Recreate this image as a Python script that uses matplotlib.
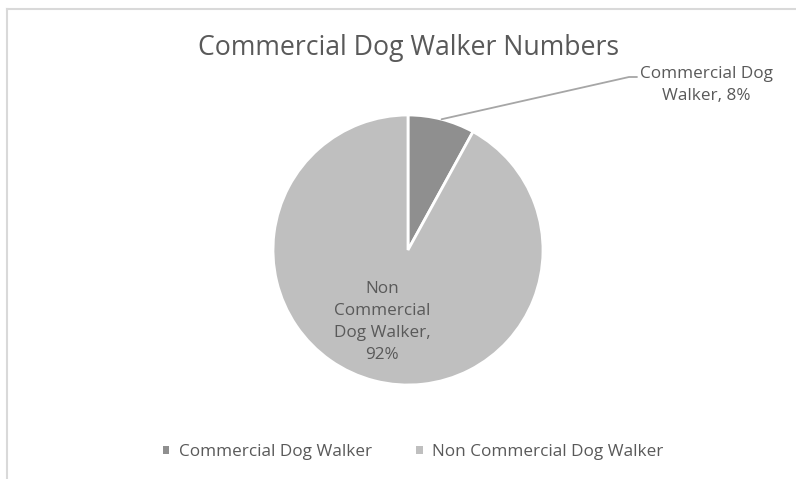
import numpy as np
import matplotlib
matplotlib.use("Agg")
import matplotlib.pyplot as plt
from matplotlib.lines import Line2D
from matplotlib.patches import Patch

# Data
labels = ["Commercial Dog Walker", "Non Commercial Dog Walker"]
values = [8, 92]
colors = ["#8f8f8f", "#bfbfbf"]
title = "Commercial Dog Walker Numbers"
text_color = "#595959"

plt.rcParams['font.family'] = ['Open Sans', 'DejaVu Sans']

W, H = 796, 479
fig = plt.figure(figsize=(W / 100, H / 100), dpi=100)

# pie axes: centre (408, 250) px from top, radius 135 px
cx, cy, r = 408, 250, 135
ax = fig.add_axes([(cx - r) / W, (H - cy - r) / H, 2 * r / W, 2 * r / H])
wedges, _ = ax.pie(values, colors=colors, startangle=90, counterclock=False,
                   radius=1, wedgeprops=dict(edgecolor="white", linewidth=2))
ax.set_xlim(-1, 1)
ax.set_ylim(-1, 1)
ax.set_aspect("equal")
ax.axis("off")

total = sum(values)
pct = [round(v / total * 100) for v in values]
fs = 12.3

# leader line for the small slice: straight segment then short horizontal
mid = np.deg2rad(90 - values[0] / total * 360 / 2)
ax.annotate("", xy=(np.cos(mid), np.sin(mid)), xycoords="data",
            xytext=(637 / W, 1 - 77 / H), textcoords="figure fraction",
            arrowprops=dict(arrowstyle="-", color="#a6a6a6", lw=1.3,
                            shrinkA=0, shrinkB=0,
                            connectionstyle="angle,angleA=0,angleB=12.7,rad=0"))
fig.text(706 / W, 1 - 85 / H, f"Commercial Dog\nWalker, {pct[0]}%",
         ha="center", va="center", multialignment="center", fontsize=fs,
         color=text_color, linespacing=1.48)

# label inside big slice
fig.text(382 / W, 1 - 322 / H, f"Non\nCommercial\nDog Walker,\n{pct[1]}%",
         ha="center", va="center", fontsize=fs, color=text_color, linespacing=1.48)

fig.text(409 / W, 1 - 48 / H, title, ha="center", va="center",
         fontsize=19.2, color=text_color)

handles = [Patch(facecolor=c, edgecolor="none") for c in colors]
fig.legend(handles, labels, loc="center", bbox_to_anchor=(413 / W, 1 - 452 / H),
           ncol=2, frameon=False, fontsize=fs, labelcolor=text_color,
           handlelength=0.38, handleheight=0.38, handletextpad=0.55, columnspacing=2.6)

# chart border (top and left edges visible)
fig.add_artist(Line2D([7.5 / W, 1], [1 - 8.5 / H, 1 - 8.5 / H], color="#d9d9d9", lw=1.5))
fig.add_artist(Line2D([7.5 / W, 7.5 / W], [0, 1 - 8.5 / H], color="#d9d9d9", lw=1.5))

fig.savefig("out.png", dpi=100, facecolor="white")
